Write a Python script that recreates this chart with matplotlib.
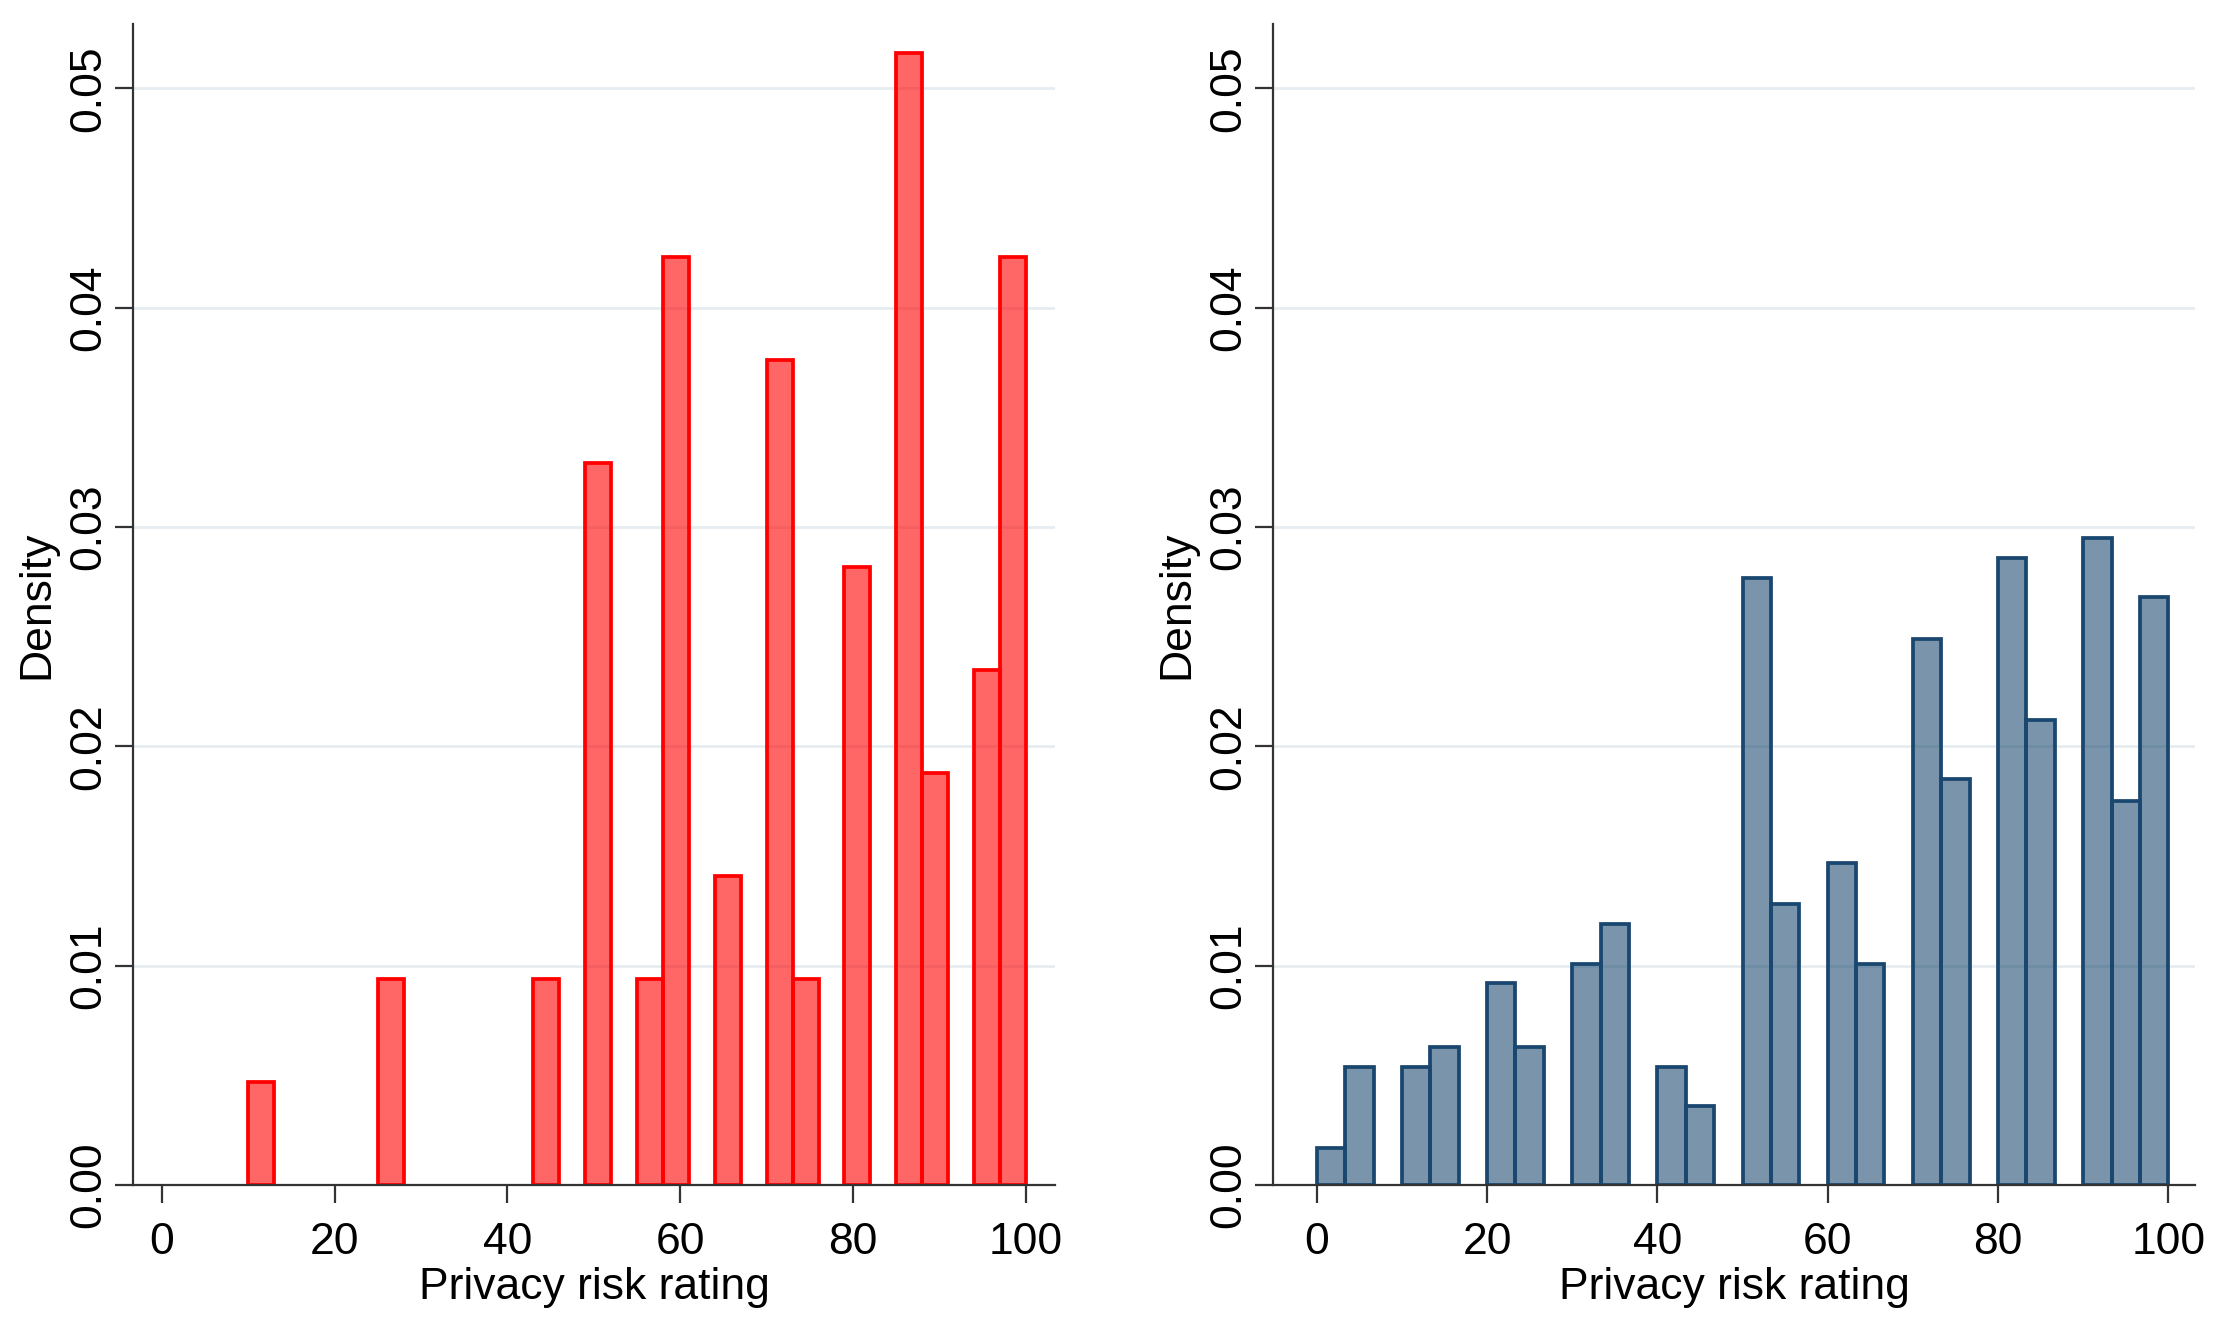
import numpy as np
import matplotlib
matplotlib.use("Agg")
import matplotlib.pyplot as plt

# ---------------- data ----------------
# Left panel: 30 bins of width 3 starting at 10
left_bin_start = 10.0
left_bin_width = 3.0
left_density = [0.0047, 0, 0, 0, 0, 0.0094, 0, 0, 0, 0,
                0, 0.0094, 0, 0.0329, 0, 0.0094, 0.0423, 0, 0.0141, 0,
                0.0376, 0.0094, 0, 0.0282, 0, 0.0516, 0.0188, 0, 0.0235, 0.0423]

# Right panel: 30 bins of width 10/3 starting at 0
right_bin_start = 0.0
right_bin_width = 10.0 / 3.0
right_density = [0.0017, 0.0054, 0, 0.0054, 0.0063, 0, 0.0092, 0.0063, 0, 0.0101,
                 0.0119, 0, 0.0054, 0.0036, 0, 0.0277, 0.0128, 0, 0.0147, 0.0101,
                 0, 0.0249, 0.0185, 0, 0.0286, 0.0212, 0, 0.0295, 0.0175, 0.0268]

x_ticks = [0, 20, 40, 60, 80, 100]
y_ticks = [0.00, 0.01, 0.02, 0.03, 0.04, 0.05]
x_label = "Privacy risk rating"
y_label = "Density"

# ---------------- style ----------------
plt.rcParams['font.family'] = ['Liberation Sans', 'DejaVu Sans']
FS = 32
W, H = 2219, 1328
fig = plt.figure(figsize=(W / 100, H / 100), dpi=100)
fig.patch.set_facecolor('white')

axes_bottom = 1 - 1185 / H
axes_height = (1185 - 24) / H

panels = [
    dict(x0=133.3, x1=1055, xlim=(-3.29, 103.36), start=left_bin_start,
         width=left_bin_width, dens=left_density,
         face=(1.0, 0.0, 0.0, 0.6), edge='#FF0000'),
    dict(x0=1273.3, x1=2195, xlim=(-5.1, 103.13), start=right_bin_start,
         width=right_bin_width, dens=right_density,
         face=(26 / 255, 71 / 255, 111 / 255, 0.58), edge='#1A476F'),
]

for p in panels:
    ax = fig.add_axes([p['x0'] / W, axes_bottom, (p['x1'] - p['x0']) / W, axes_height])
    dens = np.asarray(p['dens'], dtype=float)
    lefts = p['start'] + p['width'] * np.arange(len(dens))
    mask = dens > 0
    ax.bar(lefts[mask], dens[mask], width=p['width'], align='edge',
           color=p['face'], edgecolor=p['edge'], linewidth=2.7, zorder=3)

    ax.set_xlim(*p['xlim'])
    ax.set_ylim(0, 0.05294)
    ax.set_xticks(x_ticks)
    ax.set_xticklabels([str(t) for t in x_ticks])
    ax.set_yticks(y_ticks)
    ax.set_yticklabels([f"{t:.2f}" for t in y_ticks])

    for yv in y_ticks[1:]:
        ax.axhline(yv, color='#E6EDF1', linewidth=2.0, zorder=1)

    for s in ['top', 'right']:
        ax.spines[s].set_visible(False)
    for s in ['left', 'bottom']:
        ax.spines[s].set_color('#333333')
        ax.spines[s].set_linewidth(1.6)
        ax.spines[s].set_zorder(4)

    ax.tick_params(axis='both', direction='out', length=13, width=1.6,
                   color='#333333', labelsize=FS, labelcolor='black')
    ax.tick_params(axis='x', pad=14)
    ax.tick_params(axis='y', pad=4)
    for lab in ax.get_yticklabels():
        lab.set_rotation(90)
        lab.set_va('center')

    ax.set_xlabel(x_label, fontsize=FS, va='top')
    ax.xaxis.set_label_coords(0.5, -0.071)
    ax.set_ylabel(y_label, fontsize=FS)
    ax.yaxis.set_label_coords(-0.082, 0.5)
    ax.set_facecolor('white')

fig.savefig("out.png", dpi=100, facecolor='white')
